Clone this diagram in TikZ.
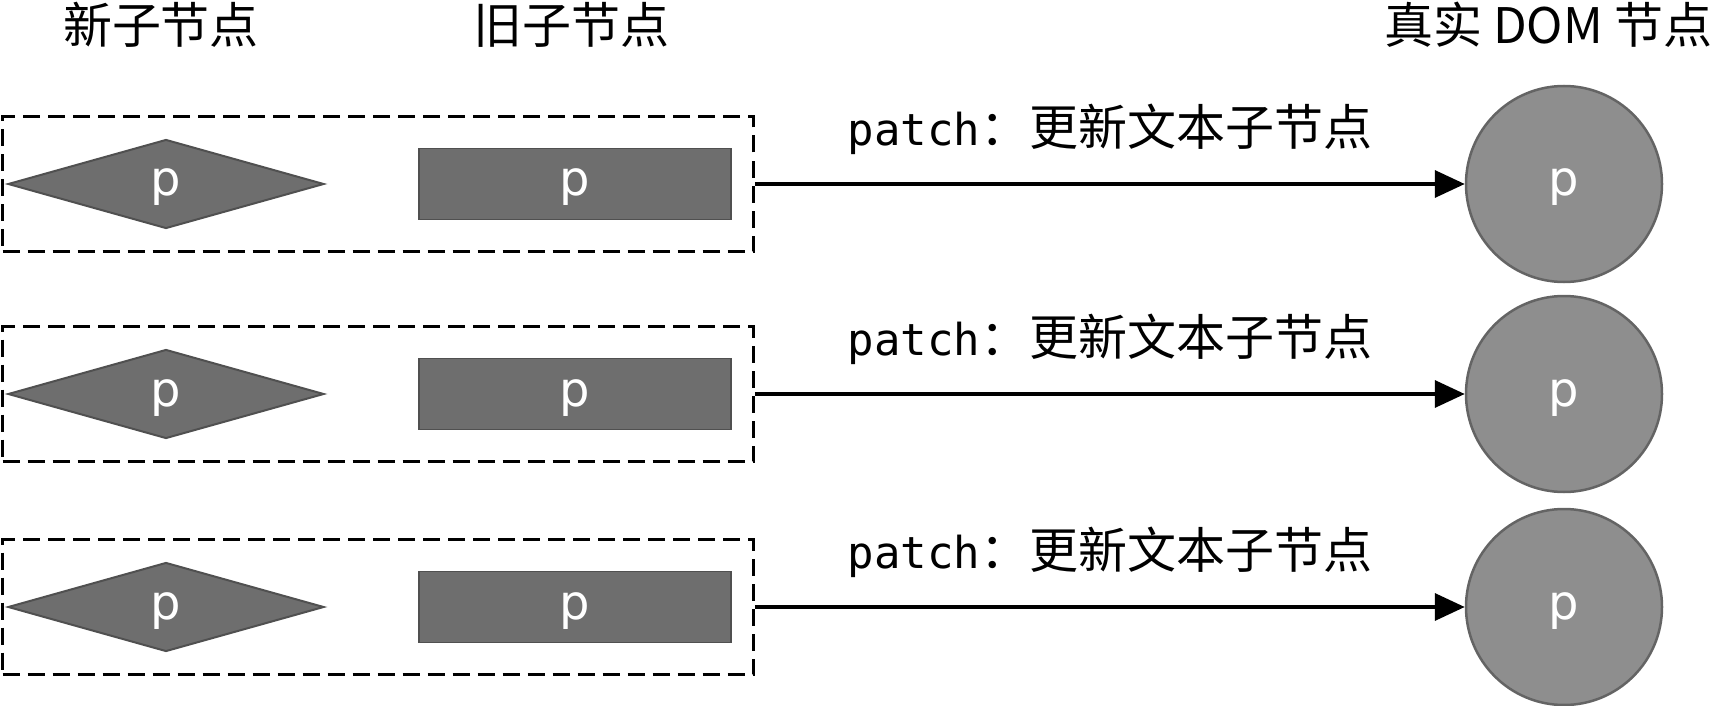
\documentclass[tikz,border=0pt]{standalone}
\usepackage{fontspec}
\setmainfont{DejaVu Sans}
\setmonofont{DejaVu Sans Mono}
\newfontfamily\cjk{Noto Sans CJK SC}
\definecolor{NodeGray}{RGB}{110, 110, 110}
\definecolor{EdgeGray}{RGB}{80, 80, 80}
\definecolor{DomGray}{RGB}{142, 142, 142}
\definecolor{DomEdge}{RGB}{100, 100, 100}
\usetikzlibrary{arrows.meta, positioning, shapes.geometric}

\begin{document}
\begin{tikzpicture}[x=1pt, y=1pt,
    every node/.style={inner sep=0pt},
    header/.style={font=\cjk\fontsize{49}{52}\selectfont},
    pnode/.style={text=white, font=\fontsize{48}{52}\selectfont, text height=34pt, text depth=10pt},
    groupbox/.style={draw, dashed, dash pattern=on 17pt off 8pt, line width=2.6pt, rectangle, minimum width=751pt, minimum height=135pt},
    newnode/.style={pnode, draw=EdgeGray, fill=NodeGray, line width=2pt, diamond, shape aspect=3.5, minimum width=316pt, minimum height=89pt},
    oldnode/.style={pnode, draw=EdgeGray, fill=NodeGray, line width=1.5pt, rectangle, minimum width=312pt, minimum height=71pt},
    domnode/.style={pnode, draw=DomEdge, fill=DomGray, line width=2.5pt, circle, minimum size=196pt},
    patcharrow/.style={line width=3.6pt, -{Triangle[length=30pt, width=27pt]}},
    patchlabel/.style={midway, above=28pt}]
    \useasboundingbox (0,0) rectangle (1725,-706);

    \node[header] (hnew) at (161,-25) {新子节点};
    \node[header] (hold) at (571,-25) {旧子节点};
    \node[header, anchor=west] (hdom) at (1384,-25) {真实 DOM 节点};

    % row 1
    \node[groupbox] (grp1) at (378,-184) {};
    \node[newnode] (new1) at (166,-184) {p};
    \node[oldnode] (old1) at (575,-184) {p};
    \node[domnode] (dom1) at (1564,-184) {p};
    \draw[patcharrow] (grp1.east) -- node[patchlabel] {{\ttfamily\fontsize{44}{48}\selectfont patch}{\cjk\fontsize{49}{52}\selectfont ：更新文本子节点}} (dom1.west);

    % row 2
    \node[groupbox] (grp2) at (378,-394) {};
    \node[newnode] (new2) at (166,-394) {p};
    \node[oldnode] (old2) at (575,-394) {p};
    \node[domnode] (dom2) at (1564,-394) {p};
    \draw[patcharrow] (grp2.east) -- node[patchlabel] {{\ttfamily\fontsize{44}{48}\selectfont patch}{\cjk\fontsize{49}{52}\selectfont ：更新文本子节点}} (dom2.west);

    % row 3
    \node[groupbox] (grp3) at (378,-607) {};
    \node[newnode] (new3) at (166,-607) {p};
    \node[oldnode] (old3) at (575,-607) {p};
    \node[domnode] (dom3) at (1564,-607) {p};
    \draw[patcharrow] (grp3.east) -- node[patchlabel] {{\ttfamily\fontsize{44}{48}\selectfont patch}{\cjk\fontsize{49}{52}\selectfont ：更新文本子节点}} (dom3.west);
\end{tikzpicture}
\end{document}
